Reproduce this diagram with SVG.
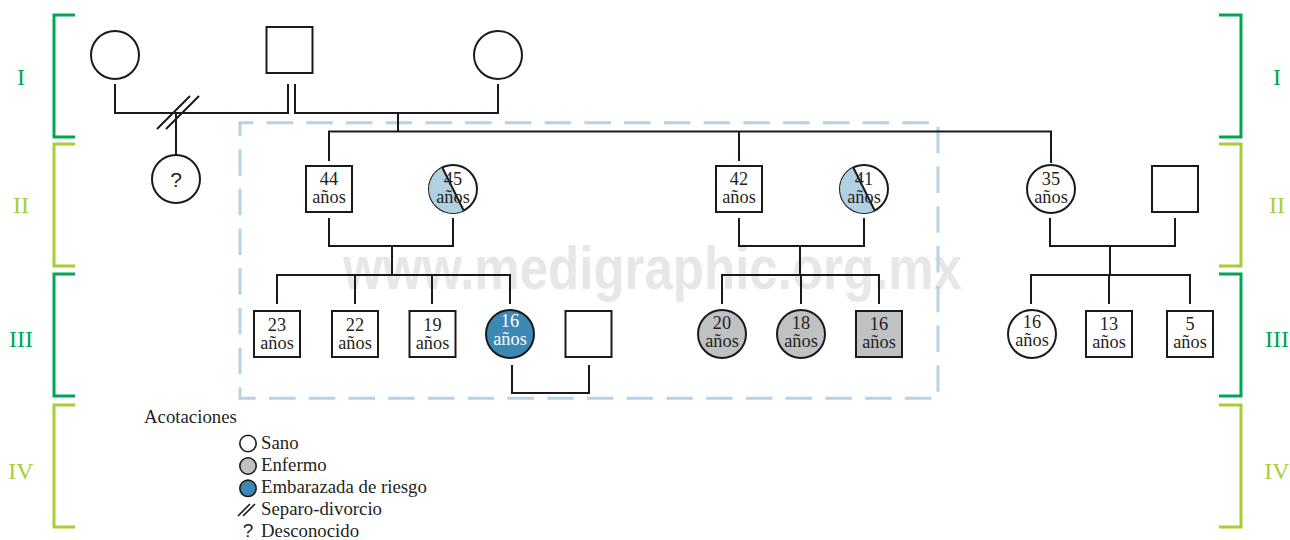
<svg xmlns="http://www.w3.org/2000/svg" width="1290" height="540" viewBox="0 0 1290 540">
<style>
.ln{fill:none;stroke:#1a1a1a;stroke-width:2}
.nd{fill:#fff;stroke:#1a1a1a;stroke-width:2}
.sick{fill:#c0c1c3}
.preg{fill:#3b88b5}
.t{font-family:"Liberation Serif","Times New Roman",serif;font-size:18.3px;fill:#231f20;text-anchor:middle}
.tw{fill:#fff}
.lg{font-family:"Liberation Serif","Times New Roman",serif;font-size:18.8px;fill:#231f20}
.rn{font-family:"Liberation Serif","Times New Roman",serif;font-size:24px;text-anchor:middle}
.dk{stroke:#00a651;fill:none;stroke-width:3}
.lt{stroke:#a6ce39;fill:none;stroke-width:3}
.q{font-family:"Liberation Sans",Arial,sans-serif;fill:#231f20;text-anchor:middle}
</style>
<rect width="1290" height="540" fill="#fff"/>
<text x="343" y="289" font-family="Liberation Sans, Arial, sans-serif" font-weight="bold" font-size="62" fill="#e6e7e8" textLength="619" lengthAdjust="spacingAndGlyphs">www.medigraphic.org.mx</text>
<g id="generations">
<path class="dk" d="M75,15H54V137H75"/>
<path class="lt" d="M75,144H54V266H75"/>
<path class="dk" d="M75,274H54V396H75"/>
<path class="lt" d="M75,405H54V527H75"/>
<path class="dk" d="M1219,15H1241V137H1219"/>
<path class="lt" d="M1219,144H1241V266H1219"/>
<path class="dk" d="M1219,274H1241V396H1219"/>
<path class="lt" d="M1219,405H1241V527H1219"/>
<text class="rn" x="21" y="85" fill="#00a651">I</text>
<text class="rn" x="21" y="213" fill="#a6ce39">II</text>
<text class="rn" x="21" y="347" fill="#00a651">III</text>
<text class="rn" x="21" y="479" fill="#a6ce39">IV</text>
<text class="rn" x="1277" y="85" fill="#00a651">I</text>
<text class="rn" x="1277" y="213" fill="#a6ce39">II</text>
<text class="rn" x="1277" y="347" fill="#00a651">III</text>
<text class="rn" x="1277" y="479" fill="#a6ce39">IV</text>
</g>
<rect id="group-box" x="240" y="122.7" width="698" height="275.6" fill="none" stroke="#b4d3e6" stroke-width="3" stroke-dasharray="26.5 13.24" stroke-dashoffset="13.25"/>
<g id="connectors">
<path class="ln" d="M115,84V113H288V84"/>
<path class="ln" d="M295,84V113H498V84"/>
<path class="ln" d="M157,129L190,96M166,129L199,96"/>
<path class="ln" d="M176,113V155"/>
<path class="ln" d="M398,113V131.5"/>
<path class="ln" d="M329,161V131.5H1051V163M739,131.5V161"/>
<path class="ln" d="M329,218V246H453V218M392,246V275"/>
<path class="ln" d="M739,218V246H864V218M800,246V275"/>
<path class="ln" d="M1050,218V246H1175V218M1110,246V275"/>
<path class="ln" d="M277,304V275H510V304M355,275V304M432,275V304"/>
<path class="ln" d="M722,304V275H879V304M801,275V304"/>
<path class="ln" d="M1031,304V275H1190V304M1109,275V304"/>
<path class="ln" d="M512,365V393H589V365"/>
</g>
<g id="n-I-1"><circle class="nd" cx="115" cy="55" r="24"/></g>
<g id="n-I-2"><rect class="nd" x="266.5" y="27" width="46" height="46"/></g>
<g id="n-I-3"><circle class="nd" cx="498" cy="55" r="24"/></g>
<g id="n-unknown"><circle class="nd" cx="176" cy="179" r="24"/><text class="q" x="176" y="187" font-size="21">?</text></g>
<g id="n-44"><rect class="nd" x="306" y="166" width="46" height="46"/><text class="t" x="329" y="185">44</text><text class="t" x="329" y="203">años</text></g>
<g id="n-45"><circle class="nd" cx="453" cy="189" r="24"/><path d="M442.3,167.5A24,24 0 0 0 463.7,210.5Z" fill="#b1d1e3"/><path class="ln" d="M442.3,167.5L463.7,210.5" stroke-width="1.6"/><text class="t" x="453" y="185">45</text><text class="t" x="453" y="203">años</text></g>
<g id="n-42"><rect class="nd" x="716" y="166" width="46" height="46"/><text class="t" x="739" y="185">42</text><text class="t" x="739" y="203">años</text></g>
<g id="n-41"><circle class="nd" cx="864" cy="189" r="24"/><path d="M853.3,167.5A24,24 0 0 0 874.7,210.5Z" fill="#b1d1e3"/><path class="ln" d="M853.3,167.5L874.7,210.5" stroke-width="1.6"/><text class="t" x="864" y="185">41</text><text class="t" x="864" y="203">años</text></g>
<g id="n-35"><circle class="nd" cx="1051" cy="189" r="24"/><text class="t" x="1051" y="185">35</text><text class="t" x="1051" y="203">años</text></g>
<g id="n-II-spouse"><rect class="nd" x="1152" y="166" width="46" height="46"/></g>
<g id="n-23"><rect class="nd" x="254" y="311" width="46" height="46"/><text class="t" x="277" y="331">23</text><text class="t" x="277" y="349">años</text></g>
<g id="n-22"><rect class="nd" x="332" y="311" width="46" height="46"/><text class="t" x="355" y="331">22</text><text class="t" x="355" y="349">años</text></g>
<g id="n-19"><rect class="nd" x="409.5" y="311" width="46" height="46"/><text class="t" x="432.5" y="331">19</text><text class="t" x="432.5" y="349">años</text></g>
<g id="n-16-preg"><circle class="nd preg" cx="510" cy="334" r="24"/><text class="t tw" x="510" y="327">16</text><text class="t tw" x="510" y="345">años</text></g>
<g id="n-III-spouse"><rect class="nd" x="565.5" y="311" width="46" height="46"/></g>
<g id="n-20"><circle class="nd sick" cx="722" cy="334" r="24"/><text class="t" x="722" y="329">20</text><text class="t" x="722" y="347">años</text></g>
<g id="n-18"><circle class="nd sick" cx="801" cy="334" r="24"/><text class="t" x="801" y="329">18</text><text class="t" x="801" y="347">años</text></g>
<g id="n-16-sick"><rect class="nd sick" x="856" y="311" width="46" height="46"/><text class="t" x="879" y="330">16</text><text class="t" x="879" y="348">años</text></g>
<g id="n-16"><circle class="nd" cx="1032" cy="334" r="24"/><text class="t" x="1032" y="328">16</text><text class="t" x="1032" y="346">años</text></g>
<g id="n-13"><rect class="nd" x="1086" y="311" width="46" height="46"/><text class="t" x="1109" y="330">13</text><text class="t" x="1109" y="348">años</text></g>
<g id="n-5"><rect class="nd" x="1167" y="311" width="46" height="46"/><text class="t" x="1190" y="330">5</text><text class="t" x="1190" y="348">años</text></g>
<g id="legend">
<text class="lg" x="144" y="423">Acotaciones</text>
<circle cx="248" cy="443.5" r="8.2" fill="#fff" stroke="#1a1a1a" stroke-width="1.6"/>
<text class="lg" x="261" y="449">Sano</text>
<circle cx="248" cy="466" r="8.2" fill="#c0c1c3" stroke="#1a1a1a" stroke-width="1.6"/>
<text class="lg" x="261" y="471">Enfermo</text>
<circle cx="248" cy="488.3" r="8.2" fill="#3b88b5" stroke="#1a1a1a" stroke-width="1.6"/>
<text class="lg" x="261" y="493">Embarazada de riesgo</text>
<path d="M238,516L250,504M243,516L255,504" stroke="#1a1a1a" stroke-width="1.6" fill="none"/>
<text class="lg" x="261" y="515">Separo-divorcio</text>
<text class="q" x="248" y="537" font-size="19">?</text>
<text class="lg" x="261" y="537">Desconocido</text>
</g>
</svg>
